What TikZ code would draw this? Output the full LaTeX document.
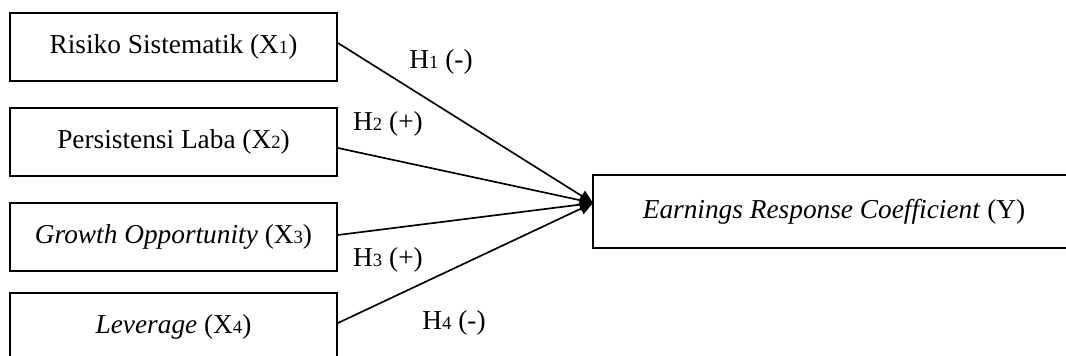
\documentclass[tikz,border=0pt]{standalone}
\usepackage{fontspec}
\setmainfont{Liberation Serif}
\usetikzlibrary{arrows.meta,calc}
\newcommand\sbx[1]{{\fontsize{14}{14}\selectfont #1}}
\tikzset{
  box/.style={draw=black, line width=1.4pt, inner sep=0pt, align=center,
    font=\fontsize{20.5}{24}\selectfont},
  leftbox/.style={box, minimum width=245.25pt, minimum height=51pt},
  rightbox/.style={box, minimum width=361.5pt, minimum height=54.75pt},
  conn/.style={line width=1.25pt, -{Triangle[length=10pt,width=9pt]}},
  hlabel/.style={inner sep=0pt, font=\fontsize{20.5}{24}\selectfont}
}
\begin{document}
\begin{tikzpicture}[x=0.75pt,y=-0.75pt]
\clip (0,0) rectangle (1066,356);
\useasboundingbox (0,0) rectangle (1066,356);
\node[leftbox] (X1) at (173.5,47) {Risiko Sistematik (X\sbx{1})};
\node[leftbox] (X2) at (173.5,142) {Persistensi Laba (X\sbx{2})};
\node[leftbox] (X3) at (173.5,237) {\textit{Growth Opportunity} (X\sbx{3})};
\node[leftbox] (X4) at (173.5,327) {\textit{Leverage} (X\sbx{4})};
\node[rightbox] (Y) at (834,211.5) {\textit{Earnings Response Coefficient} (Y)};
\coordinate (tip) at (593,203);
\draw[conn] ($(X1.east)+(0,-4)$) -- (tip);
\draw[conn] ($(X2.east)+(0,6)$) -- (tip);
\draw[conn] ($(X3.east)+(0,-2)$) -- (tip);
\draw[conn] ($(X4.east)+(0,-4)$) -- (tip);
\node[hlabel] (h1) at (441,62) {H\sbx{1} (-)};
\node[hlabel] (h2) at (388,124) {H\sbx{2} (+)};
\node[hlabel] (h3) at (388,260) {H\sbx{3} (+)};
\node[hlabel] (h4) at (454,323) {H\sbx{4} (-)};
\end{tikzpicture}
\end{document}
